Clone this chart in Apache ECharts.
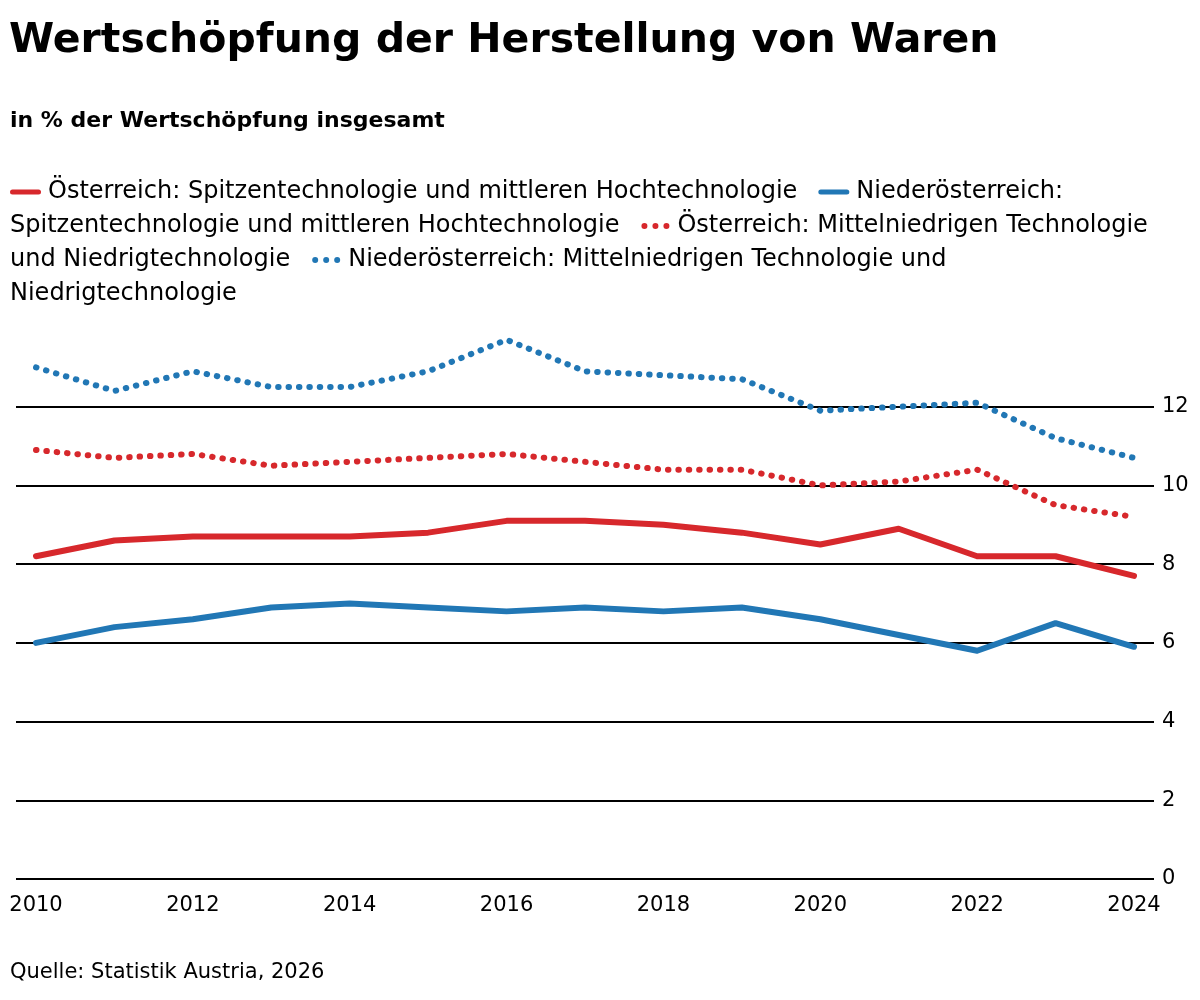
<!DOCTYPE html>
<html>
<head>
<meta charset="utf-8">
<script src="https://cdn.jsdelivr.net/npm/echarts@6/dist/echarts.min.js"></script>
<style>
html,body{margin:0;padding:0;background:#fff;}
#chart{width:1200px;height:1000px;}
</style>
</head>
<body>
<div id="chart"></div>
<script>
const years = [2010,2011,2012,2013,2014,2015,2016,2017,2018,2019,2020,2021,2022,2023,2024];
const yearLabels = [2010,2012,2014,2016,2018,2020,2022,2024];
const atHigh = [8.2,8.6,8.7,8.7,8.7,8.8,9.1,9.1,9.0,8.8,8.5,8.9,8.2,8.2,7.7];
const noeHigh = [6.0,6.4,6.6,6.9,7.0,6.9,6.8,6.9,6.8,6.9,6.6,6.2,5.8,6.5,5.9];
const atLow = [10.9,10.7,10.8,10.5,10.6,10.7,10.8,10.6,10.4,10.4,10.0,10.1,10.4,9.5,9.2];
const noeLow = [13.0,12.4,12.9,12.5,12.5,12.9,13.7,12.9,12.8,12.7,11.9,12.0,12.1,11.2,10.7];
const seriesNames = [
  'Österreich: Spitzentechnologie und mittleren Hochtechnologie',
  'Niederösterreich: Spitzentechnologie und mittleren Hochtechnologie',
  'Österreich: Mittelniedrigen Technologie und Niedrigtechnologie',
  'Niederösterreich: Mittelniedrigen Technologie und Niedrigtechnologie'
];
const RED = '#d7282c';
const BLUE = '#2177b5';
const FONT = 'DejaVu Sans';

function pairs(vals){ return years.map((y,i)=>[y, vals[i]]); }
function dotsSvg(color){
  const c = encodeURIComponent(color);
  return 'data:image/svg+xml;utf8,' +
    "<svg xmlns='http://www.w3.org/2000/svg' width='30' height='8'>" +
    "<circle cx='4' cy='4' r='3' fill='" + c + "'/>" +
    "<circle cx='15' cy='4' r='3' fill='" + c + "'/>" +
    "<circle cx='26' cy='4' r='3' fill='" + c + "'/></svg>";
}

const legendText =
  '{r| }{g| }' + seriesNames[0] + '{s| }{b| }{g| }Niederösterreich:\n' +
  'Spitzentechnologie und mittleren Hochtechnologie{s| }{rd| }{g| }Österreich: Mittelniedrigen Technologie\n' +
  'und Niedrigtechnologie{s| }{bd| }{g| }Niederösterreich: Mittelniedrigen Technologie und\n' +
  'Niedrigtechnologie';

const chart = echarts.init(document.getElementById('chart'), null, {renderer:'canvas'});
const dotted = {type:[0.5, 9.9], cap:'round', width:6};
chart.setOption({
  animation:false,
  backgroundColor:'#fff',
  textStyle:{fontFamily:FONT},
  title:[
    {text:'Wertschöpfung der Herstellung von Waren', left:9, top:21, padding:0,
     textStyle:{fontFamily:FONT, fontWeight:'bold', fontSize:41, color:'#000'}},
    {text:'in % der Wertschöpfung insgesamt', left:10, top:110, padding:0,
     textStyle:{fontFamily:FONT, fontWeight:'bold', fontSize:22, color:'#000'}},
    {text:legendText, left:10, top:175, padding:0,
     textStyle:{fontFamily:FONT, fontWeight:'normal', fontSize:24, color:'#000', lineHeight:34,
       rich:{
         r:{width:31, height:5, backgroundColor:RED, borderRadius:2.5, verticalAlign:'middle'},
         b:{width:31, height:5, backgroundColor:BLUE, borderRadius:2.5, verticalAlign:'middle'},
         rd:{width:30, height:8, backgroundColor:{image:dotsSvg(RED)}, verticalAlign:'middle'},
         bd:{width:30, height:8, backgroundColor:{image:dotsSvg(BLUE)}, verticalAlign:'middle'},
         g:{width:7},
         s:{width:21}
       }}},
    {text:'Quelle: Statistik Austria, 2026', left:10, top:962, padding:0,
     textStyle:{fontFamily:FONT, fontWeight:'normal', fontSize:21, color:'#000'}}
  ],
  grid:{left:16, right:46, top:328, bottom:121, containLabel:false},
  xAxis:{
    type:'value', min:2009.745, max:2024.255,
    axisLine:{show:false}, axisTick:{show:false}, splitLine:{show:false},
    axisLabel:{customValues:yearLabels, margin:16, fontSize:21, color:'#000', fontFamily:FONT,
      formatter:v=>String(Math.round(v))}
  },
  yAxis:{
    type:'value', position:'right', min:0, max:14, interval:2,
    axisLine:{show:false}, axisTick:{show:false},
    axisLabel:{margin:8, fontSize:21, color:'#000', fontFamily:FONT, showMaxLabel:false},
    splitLine:{show:true, lineStyle:{width:2, color:['#000','#000','#000','#000','#000','#000','#000','rgba(0,0,0,0)']}}
  },
  series:[
    {name:seriesNames[0], type:'line', data:pairs(atHigh), showSymbol:false, symbol:'none',
     lineStyle:{color:RED, width:6, join:'round', cap:'round'}, z:4},
    {name:seriesNames[1], type:'line', data:pairs(noeHigh), showSymbol:false, symbol:'none',
     lineStyle:{color:BLUE, width:6, join:'round', cap:'round'}, z:4},
    {name:seriesNames[2], type:'line', data:pairs(atLow), showSymbol:false, symbol:'none',
     lineStyle:Object.assign({color:RED}, dotted), z:3},
    {name:seriesNames[3], type:'line', data:pairs(noeLow), showSymbol:false, symbol:'none',
     lineStyle:Object.assign({color:BLUE}, dotted), z:3}
  ]
});
</script>
</body>
</html>
